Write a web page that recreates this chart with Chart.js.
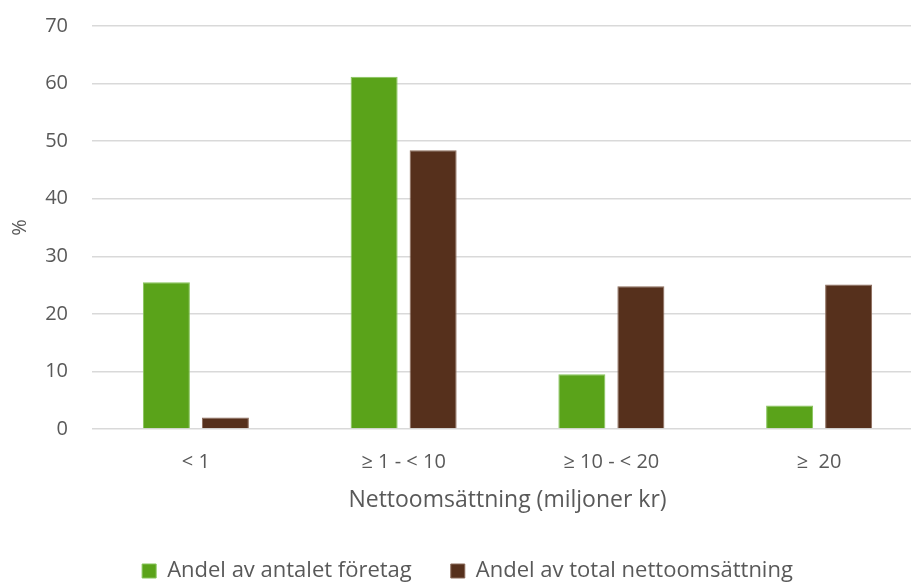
<!DOCTYPE html>
<html lang="sv">
<head>
<meta charset="utf-8">
<title>Andel företag och nettoomsättning per storleksklass</title>
<script src="https://cdn.jsdelivr.net/npm/chart.js@4/dist/chart.umd.min.js"></script>
<style>
  html, body { margin: 0; padding: 0; background: #ffffff; overflow: hidden; }
  #wrap { position: relative; width: 923px; height: 592px; }
</style>
</head>
<body>
<div id="wrap"><canvas id="chart"></canvas></div>
<script>
// Size classes by net turnover (million SEK)
const categories = ['< 1', '≥ 1 - < 10', '≥ 10 - < 20', '≥  20'];

// Share of the number of companies, %
const shareOfCompanies = [25.5, 61.2, 9.5, 4.1];

// Share of total net turnover, %
const shareOfTurnover = [2.0, 48.4, 24.8, 25.1];

const seriesNames = ['Andel av antalet företag', 'Andel av total nettoomsättning'];
const yTicks = [0, 10, 20, 30, 40, 50, 60, 70];

const textColor = '#595959';
const gridColor = '#d9d9d9';
const font = 'Open Sans';

// Nudge the legend row a little to the right of its centred position
const legendShift = {
  id: 'legendShift',
  afterLayout(chart) {
    const lg = chart.legend;
    if (lg) { lg.left += 6; lg.right += 6; }
  }
};

new Chart(document.getElementById('chart'), {
  type: 'bar',
  plugins: [legendShift],
  data: {
    labels: categories,
    datasets: [
      {
        label: seriesNames[0],
        data: shareOfCompanies,
        backgroundColor: '#5aa31a',
        borderColor: '#86c45a',
        borderWidth: 1
      },
      {
        label: seriesNames[1],
        data: shareOfTurnover,
        backgroundColor: '#56301c',
        borderColor: '#8a6a5a',
        borderWidth: 1
      }
    ]
  },
  options: {
    responsive: true,
    maintainAspectRatio: false,
    animation: false,
    categoryPercentage: 0.568,
    barPercentage: 0.797,
    layout: { autoPadding: false, padding: { top: 26, right: 0, bottom: 0, left: 0 } },
    plugins: {
      legend: {
        position: 'bottom',
        labels: {
          color: textColor,
          font: { family: font, size: 22 },
          boxWidth: 14,
          boxHeight: 14,
          padding: 39
        }
      },
      tooltip: { enabled: false }
    },
    scales: {
      x: {
        afterFit: (scale) => {
          scale.height = 92;
          scale.paddingLeft = 0;
          scale.paddingRight = 0;
        },
        grid: { display: false, drawTicks: false },
        border: { display: false },
        ticks: {
          color: textColor,
          font: { family: font, size: 20 },
          padding: 21,
          maxRotation: 0,
          autoSkip: false
        },
        title: {
          display: true,
          text: 'Nettoomsättning (miljoner kr)',
          color: textColor,
          font: { family: font, size: 23 },
          padding: { top: 10, bottom: 7 }
        }
      },
      y: {
        min: 0,
        max: 70,
        afterFit: (scale) => {
          scale.width = 92;
          scale.paddingTop = 0;
          scale.paddingBottom = 0;
        },
        afterBuildTicks: (axis) => { axis.ticks = yTicks.map(v => ({ value: v })); },
        grid: { color: gridColor, lineWidth: 1.5, drawTicks: false },
        border: { display: false },
        ticks: {
          color: textColor,
          font: { family: font, size: 20 },
          padding: 24
        },
        title: {
          display: true,
          text: '%',
          color: textColor,
          font: { family: font, size: 20 },
          padding: { top: 8, bottom: 11 }
        }
      }
    }
  }
});
</script>
</body>
</html>
